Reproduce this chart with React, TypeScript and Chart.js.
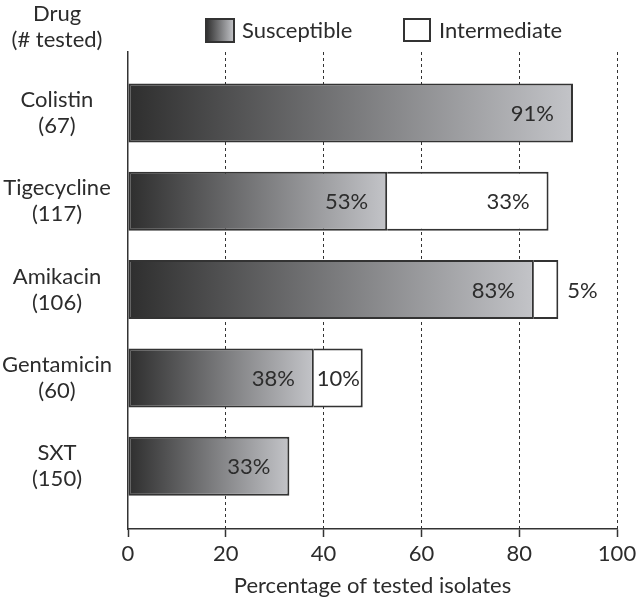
import React, { useEffect, useRef } from 'react';
import { Chart, registerables } from 'chart.js';

Chart.register(...registerables);

// ---- data ----
const drugs = ['Colistin', 'Tigecycline', 'Amikacin', 'Gentamicin', 'SXT'];
const tested = [67, 117, 106, 60, 150];
const susceptible = [91, 53, 83, 38, 33];
const intermediate = [0, 33, 5, 10, 0];
const xTicks = [0, 20, 40, 60, 80, 100];
const seriesNames = ['Susceptible', 'Intermediate'];
const headerLines = ['Drug', '(# tested)'];
const xTitle = 'Percentage of tested isolates';

// ---- style ----
const FONT = "Lato, 'Open Sans', sans-serif";
const FS = 22;
const INK = '#2c2c2c';
const LINE = '#333333';
const G0 = '#2e2e2e';
const G1 = '#c3c4c8';
const LABEL_X = 57;

function makeGrad(ctx: CanvasRenderingContext2D, x0: number, x1: number) {
  const g = ctx.createLinearGradient(x0, 0, x1, 0);
  g.addColorStop(0, G0);
  g.addColorStop(1, G1);
  return g;
}

const overlayPlugin = {
  id: 'overlay',
  afterDatasetsDraw(chart: any) {
    const ctx: CanvasRenderingContext2D = chart.ctx;
    ctx.save();
    ctx.font = `${FS}px ${FONT}`;
    ctx.fillStyle = INK;
    ctx.textBaseline = 'middle';
    chart.data.datasets.forEach((ds: any, di: number) => {
      const meta = chart.getDatasetMeta(di);
      meta.data.forEach((el: any, j: number) => {
        const v = ds.data[j].x;
        const txt = `${v}%`;
        const w = ctx.measureText(txt).width;
        const start = Math.min(el.base, el.x);
        const end = Math.max(el.base, el.x);
        const seg = end - start;
        if (seg >= w + 19 + 4) {
          ctx.textAlign = 'right';
          ctx.fillText(txt, end - 19, el.y + 1);
        } else if (seg >= w) {
          ctx.textAlign = 'center';
          ctx.fillText(txt, (start + end) / 2, el.y + 1);
        } else {
          ctx.textAlign = 'left';
          ctx.fillText(txt, end + 9, el.y + 1);
        }
      });
    });
    ctx.restore();
  },
  afterDraw(chart: any) {
    const ctx: CanvasRenderingContext2D = chart.ctx;
    ctx.save();
    ctx.font = `${FS}px ${FONT}`;
    ctx.fillStyle = INK;
    ctx.textBaseline = 'middle';
    ctx.textAlign = 'center';
    ctx.fillText(headerLines[0], LABEL_X, 14);
    ctx.fillText(headerLines[1], LABEL_X, 40);

    // legend
    ctx.lineWidth = 2;
    ctx.strokeStyle = LINE;
    ctx.fillStyle = makeGrad(ctx, 206, 234);
    ctx.fillRect(206, 19, 28, 23);
    ctx.strokeRect(206, 19, 28, 23);
    ctx.fillStyle = '#ffffff';
    ctx.fillRect(404, 19, 26, 22);
    ctx.strokeRect(404, 19, 26, 22);
    ctx.fillStyle = INK;
    ctx.textAlign = 'left';
    ctx.fillText(seriesNames[0], 242, 31);
    ctx.fillText(seriesNames[1], 439, 31);
    ctx.restore();
  },
};

export default function App() {
  const ref = useRef<HTMLCanvasElement | null>(null);

  useEffect(() => {
    const canvas = ref.current;
    if (!canvas) return;
    const mctx = canvas.getContext('2d')!;
    mctx.font = `${FS}px ${FONT}`;
    let widest = 0;
    drugs.forEach((d, i) => {
      widest = Math.max(widest, mctx.measureText(d).width, mctx.measureText(`(${tested[i]})`).width);
    });
    const yPad = Math.max(2, 128 - LABEL_X - widest / 2);

    const susData = susceptible.map((v, i) => ({ x: v, y: i }));
    const intData = intermediate.flatMap((v, i) => (v > 0 ? [{ x: v, y: i }] : []));

    const chart = new Chart(canvas, {
      type: 'bar',
      data: {
        datasets: [
          {
            label: seriesNames[0],
            data: susData,
            backgroundColor: (c: any) => {
              const ch = c.chart;
              if (!ch.chartArea || !c.raw) return G0;
              const xs = ch.scales.x;
              return makeGrad(ch.ctx, xs.getPixelForValue(0), xs.getPixelForValue(c.raw.x));
            },
            borderColor: LINE,
            borderWidth: 2,
            borderSkipped: false,
            barPercentage: 0.668,
            categoryPercentage: 1,
          },
          {
            label: seriesNames[1],
            data: intData,
            backgroundColor: '#ffffff',
            borderColor: LINE,
            borderWidth: { top: 2, right: 2, bottom: 2, left: 0 },
            borderSkipped: false,
            barPercentage: 0.668,
            categoryPercentage: 1,
          },
        ],
      } as any,
      options: {
        indexAxis: 'y',
        animation: false,
        responsive: false,
        devicePixelRatio: 1,
        layout: { padding: { top: 52, right: 19, left: 0, bottom: 0 } },
        plugins: { legend: { display: false }, tooltip: { enabled: false } },
        scales: {
          x: {
            type: 'linear',
            min: 0,
            max: 100,
            stacked: true,
            offset: false,
            afterBuildTicks: (s: any) => {
              s.ticks = xTicks.map((v) => ({ value: v }));
            },
            afterFit: (s: any) => {
              s.height = 72;
              s.paddingLeft = 0;
              s.paddingRight = 0;
            },
            ticks: { font: { family: FONT, size: FS }, color: INK, padding: 4, maxRotation: 0, autoSkip: false },
            grid: {
              color: (c: any) => (c.tick && c.tick.value === 0 ? 'rgba(0,0,0,0)' : LINE),
              lineWidth: 1,
              drawTicks: true,
              tickLength: 8,
              tickColor: LINE,
              tickWidth: 1.5,
              offset: false,
            },
            border: { display: true, color: LINE, width: 1.5, dash: [3, 3] },
            title: {
              display: true,
              text: xTitle,
              font: { family: FONT, size: FS },
              color: INK,
              padding: { top: 0, bottom: 2 },
            },
          },
          y: {
            type: 'linear',
            reverse: true,
            min: -0.69,
            max: 4.71,
            offset: false,
            stacked: true,
            afterBuildTicks: (s: any) => {
              s.ticks = drugs.map((_, i) => ({ value: i }));
            },
            afterFit: (s: any) => {
              s.width = 128;
              s.paddingTop = 0;
              s.paddingBottom = 0;
            },
            ticks: {
              callback: (v: any) => [drugs[v], `(${tested[v]})`],
              font: { family: FONT, size: FS, lineHeight: 1.18 },
              color: INK,
              crossAlign: 'center',
              padding: yPad,
              autoSkip: false,
            },
            grid: { display: false, drawTicks: false, offset: false },
            border: { display: true, color: LINE, width: 1.5 },
          },
        },
      } as any,
      plugins: [overlayPlugin],
    });
    return () => chart.destroy();
  }, []);

  return (
    <div style={{ position: 'fixed', left: 0, top: 0, width: 636, height: 601, background: '#fff' }}>
      <canvas ref={ref} width={636} height={601} style={{ display: 'block', width: 636, height: 601 }} />
    </div>
  );
}
